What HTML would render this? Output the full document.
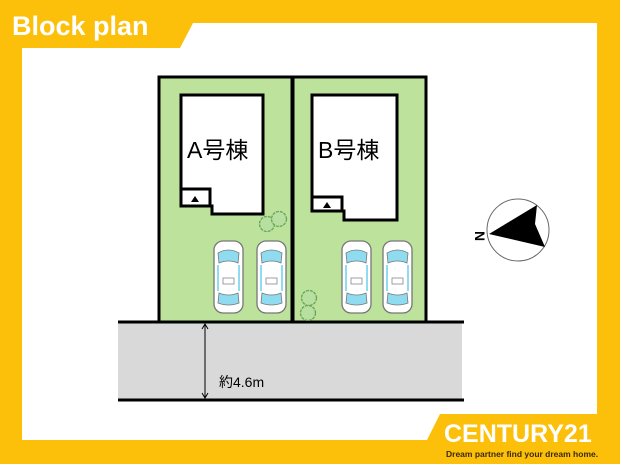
<!DOCTYPE html><html><head><meta charset="utf-8"><style>
body{margin:0;width:620px;height:464px;overflow:hidden;background:#fcbf0a;font-family:"Liberation Sans","Noto Sans CJK JP",sans-serif}
</style></head><body>
<svg width="620" height="464" viewBox="0 0 620 464" style="position:absolute;left:0;top:0">
<defs>
<g id="car">
<rect x="0" y="0" width="29" height="72" rx="9" fill="#fff" stroke="#777" stroke-width="1.3"/>
<path d="M4 12 Q14.5 6 25 12 L24 22 Q14.5 18 5 22Z" fill="#8fdbef" stroke="#777" stroke-width="0.8"/>
<path d="M5 52 Q14.5 56 24 52 L25 62 Q14.5 66 4 62Z" fill="#8fdbef" stroke="#777" stroke-width="0.8"/>
<rect x="3" y="24" width="2" height="26" fill="#8fdbef"/><rect x="24" y="24" width="2" height="26" fill="#8fdbef"/>
<rect x="9" y="37" width="11" height="6" fill="#fff" stroke="#888" stroke-width="0.8"/>
</g>
<g id="tree"><circle r="7.5" fill="#b6dfa0" stroke="#6aa35a" stroke-width="1.3" stroke-dasharray="3 1"/></g>
</defs>
<path d="M22 48 L180 48 L193 23 L597 23 L597 414 L440 414 L427 440 L22 440Z" fill="#fff"/>
<text x="12" y="35" font-size="27" font-weight="bold" fill="#fff">Block plan</text>
<rect x="118" y="322" width="344" height="78" fill="#d9d9d9"/>
<rect x="159" y="77" width="133" height="245" fill="#bde29b" stroke="#000" stroke-width="3"/>
<rect x="293" y="77" width="133" height="245" fill="#bde29b" stroke="#000" stroke-width="3"/>
<line x1="118" y1="322" x2="464" y2="322" stroke="#000" stroke-width="3"/>
<line x1="118" y1="400" x2="464" y2="400" stroke="#000" stroke-width="3"/>
<path d="M181 95 L263 95 L263 214 L212 214 L212 206 L181 206Z" fill="#fff" stroke="#000" stroke-width="3"/>
<rect x="181" y="189" width="29" height="17" fill="#fff" stroke="#000" stroke-width="3"/>
<path d="M191 202 L195 196 L199 202Z" fill="#000"/>
<path d="M312 95 L397 95 L397 220 L344 220 L344 211 L312 211Z" fill="#fff" stroke="#000" stroke-width="3"/>
<rect x="312" y="197" width="30" height="14" fill="#fff" stroke="#000" stroke-width="3"/>
<path d="M323 208 L327 202 L331 208Z" fill="#000"/>
<text x="187" y="158" font-size="23" fill="#000">A号棟</text>
<text x="318" y="158" font-size="23" fill="#000">B号棟</text>
<use href="#tree" x="267" y="224"/><use href="#tree" x="279" y="219"/>
<use href="#tree" x="309" y="298"/><use href="#tree" x="308" y="313"/>
<use href="#car" x="214" y="241"/><use href="#car" x="257" y="241"/>
<use href="#car" x="342" y="241"/><use href="#car" x="383" y="241"/>
<line x1="205" y1="324" x2="205" y2="398" stroke="#000" stroke-width="1"/>
<path d="M202 329 L205 324 L208 329M202 393 L205 398 L208 393" fill="none" stroke="#000"/>
<text x="219" y="387" font-size="14" fill="#000">約4.6m</text>
<circle cx="518" cy="230" r="31" fill="#fff" stroke="#666" stroke-width="1"/>
<path d="M489 234 L537 205 L535 224 L545 247Z" fill="#000"/>
<text x="475" y="241" font-size="14" font-weight="bold" transform="rotate(90 480 236)">N</text>
<text x="444" y="442" font-size="25" font-weight="bold" fill="#fff">CENTURY21</text>
<text x="446" y="457" font-size="8.5" font-weight="bold" fill="#3a2a10">Dream partner find your dream home.</text>
</svg>
</body></html>
